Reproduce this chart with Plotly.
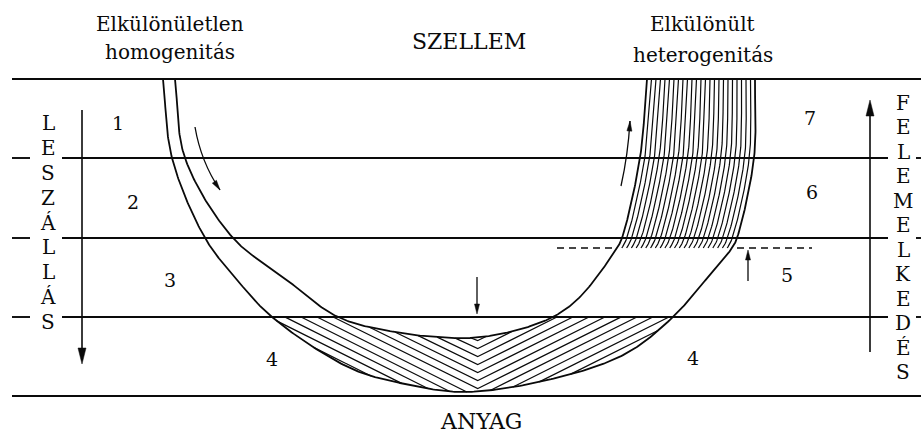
import numpy as np
import plotly.graph_objects as go

# ---------------- data (diagram geometry, in pixel units) ----------------
LEVELS_Y = [79, 158, 238, 317, 396]          # horizontal band boundaries
LEFT_WORD = "LESZÁLLÁS"
RIGHT_WORD = "FELEMELKEDÉS"
ZONE_LABELS = ["1", "2", "3", "4", "4", "5", "6", "7"]
ZONE_X = [118, 133, 170, 272, 693, 787, 812, 810]
ZONE_Y = [123, 202, 280, 359, 358, 275, 192, 118]
TOP_LABELS = ["Elkülönületlen", "homogenitás", "SZELLEM", "Elkülönült", "heterogenitás", "ANYAG"]
TOP_X = [170, 170, 469, 702, 703, 481]
TOP_Y = [24, 52, 41, 24, 55, 421]

OUTER_X = [163, 172, 205, 233, 272, 350, 400, 465, 560, 627, 673, 703, 732, 737, 754, 755]
OUTER_Y = [79, 158, 238, 275, 317, 368, 383, 392, 377, 353, 317, 283, 248, 238, 158, 79]
INNER_X = [175, 185, 233, 282, 338, 400, 437, 470, 510, 553, 580, 617, 622, 640, 647]
INNER_Y = [79, 158, 238, 276, 317, 333, 337, 338, 332, 317, 297, 248, 238, 158, 79]

DASH_Y = 248
V_CENTER = 477

W, H = 921, 434
INK = "#0a0a0a"


def catmull_rom(xs, ys, n=40):
    P = np.column_stack([xs, ys]).astype(float)
    P = np.vstack([2 * P[0] - P[1], P, 2 * P[-1] - P[-2]])
    out = []
    a = 0.5
    for i in range(1, len(P) - 2):
        p0, p1, p2, p3 = P[i - 1], P[i], P[i + 1], P[i + 2]
        t0 = 0.0
        t1 = t0 + np.linalg.norm(p1 - p0) ** a
        t2 = t1 + np.linalg.norm(p2 - p1) ** a
        t3 = t2 + np.linalg.norm(p3 - p2) ** a
        t = np.linspace(t1, t2, n, endpoint=False)[:, None]
        A1 = (t1 - t) / (t1 - t0) * p0 + (t - t0) / (t1 - t0) * p1
        A2 = (t2 - t) / (t2 - t1) * p1 + (t - t1) / (t2 - t1) * p2
        A3 = (t3 - t) / (t3 - t2) * p2 + (t - t2) / (t3 - t2) * p3
        B1 = (t2 - t) / (t2 - t0) * A1 + (t - t0) / (t2 - t0) * A2
        B2 = (t3 - t) / (t3 - t1) * A2 + (t - t1) / (t3 - t1) * A3
        C = (t2 - t) / (t2 - t1) * B1 + (t - t1) / (t2 - t1) * B2
        out.append(C)
    out.append(P[-2][None, :])
    return np.vstack(out)


outer = catmull_rom(OUTER_X, OUTER_Y)
inner = catmull_rom(INNER_X, INNER_Y)

fig = go.Figure()


def add_line(xs, ys, width=1.6, dash=None):
    fig.add_trace(go.Scatter(x=xs, y=ys, mode="lines", hoverinfo="skip",
                             line=dict(color=INK, width=width, dash=dash)))


# main arcs
add_line(outer[:, 0], outer[:, 1], 1.8)
add_line(inner[:, 0], inner[:, 1], 1.8)

# ---- right band hatching (curves between inner & outer, from top to dashed line)
def right_part(curve, xmin):
    m = (curve[:, 0] > xmin) & (curve[:, 1] <= 260)
    c = curve[m]
    o = np.argsort(c[:, 1])
    return c[o, 1], c[o, 0]

oy_r, ox_r = right_part(outer, 650)
iy_r, ix_r = right_part(inner, 590)
yy = np.linspace(LEVELS_Y[0], DASH_Y, 120)
xo = np.interp(yy, oy_r, ox_r)
xi = np.interp(yy, iy_r, ix_r)
hx, hy = [], []
N_RIGHT = 23
for t in np.linspace(0, 1, N_RIGHT + 2)[1:-1]:
    hx += list((1 - t) * xi + t * xo) + [None]
    hy += list(yy) + [None]
add_line(hx, hy, 1.2)

# ---- bottom chevron hatching
def bottom_part(curve):
    m = curve[:, 1] > 300
    c = curve[m]
    o = np.argsort(c[:, 0])
    return c[o, 0], c[o, 1]

obx, oby = bottom_part(outer)
ibx, iby = bottom_part(inner)
xs = np.sort(np.concatenate([np.linspace(obx.min(), obx.max(), 2400), [V_CENTER]]))
y_out = np.interp(xs, obx, oby)
y_in = np.where((xs >= ibx.min()) & (xs <= ibx.max()), np.interp(xs, ibx, iby), -1e9)
SLOPE = 0.5
GAP = 8.0
bx, by = [], []
v = 341.0
while v < 440:
    yl = v - SLOPE * np.abs(xs - V_CENTER)
    inside = (yl >= LEVELS_Y[3]) & (yl >= y_in) & (yl <= y_out)
    seg_x, seg_y = [], []
    for k in range(len(xs)):
        if inside[k]:
            seg_x.append(xs[k]); seg_y.append(yl[k])
        elif seg_x:
            bx += seg_x + [None]; by += seg_y + [None]
            seg_x, seg_y = [], []
    if seg_x:
        bx += seg_x + [None]; by += seg_y + [None]
    v += GAP
add_line(bx, by, 1.2)

# ---- horizontal lines
shapes = []
def hline(x0, x1, y, width=1.9, dash=None):
    shapes.append(dict(type="line", x0=x0, x1=x1, y0=y, y1=y, xref="x", yref="y",
                       line=dict(color=INK, width=width, dash=dash)))

hline(12, W, LEVELS_Y[0])
hline(12, W, LEVELS_Y[4])
for y in LEVELS_Y[1:4]:
    hline(12, 30, y)
    hline(62, 888, y)
    hline(916, W, y)

# dashed line around the hatching bottom
hline(557, 617, DASH_Y, 1.4, "7px,5px")
hline(737, 812, DASH_Y, 1.4, "7px,5px")


def arrow_head(tip, direction, length=14, width=8):
    d = np.array(direction, float)
    d /= np.linalg.norm(d)
    n = np.array([-d[1], d[0]])
    tip = np.array(tip, float)
    base = tip - d * length
    p1 = base + n * width / 2
    p2 = base - n * width / 2
    path = f"M {tip[0]},{tip[1]} L {p1[0]},{p1[1]} L {p2[0]},{p2[1]} Z"
    shapes.append(dict(type="path", path=path, xref="x", yref="y",
                       fillcolor=INK, line=dict(color=INK, width=0.5)))


def straight_arrow(x, y0, y1, length, width, lw=1.6):
    shapes.append(dict(type="line", x0=x, x1=x, y0=y0, y1=y1 - np.sign(y1 - y0) * length * 0.6,
                       xref="x", yref="y", line=dict(color=INK, width=lw)))
    arrow_head((x, y1), (0, y1 - y0), length, width)


straight_arrow(82, 110, 364, 16, 8)
straight_arrow(870, 352, 100, 16, 8)
straight_arrow(477, 277, 314, 10, 5, 1.3)
straight_arrow(748, 281, 250, 10, 5, 1.3)

# curved arrows
def curved_arrow(p0, pc, p1, length=10, width=5):
    shapes.append(dict(type="path", path=f"M {p0[0]},{p0[1]} Q {pc[0]},{pc[1]} {p1[0]},{p1[1]}",
                       xref="x", yref="y", line=dict(color=INK, width=1.3)))
    arrow_head(p1, (p1[0] - pc[0], p1[1] - pc[1]), length, width)

curved_arrow((195, 127), (201, 162), (220, 190))
curved_arrow((621, 186), (628, 155), (630, 121))

# ---- text
FONT = "DejaVu Serif"
ann = []
for t, x, y in zip(TOP_LABELS, TOP_X, TOP_Y):
    size = 22 if t.isupper() else 20
    ann.append(dict(text=t, x=x, y=y, xref="x", yref="y", showarrow=False,
                    xanchor="center", yanchor="middle",
                    font=dict(family=FONT, size=size, color=INK)))
for t, x, y in zip(ZONE_LABELS, ZONE_X, ZONE_Y):
    ann.append(dict(text=t, x=x, y=y, xref="x", yref="y", showarrow=False,
                    xanchor="center", yanchor="middle",
                    font=dict(family=FONT, size=19, color=INK)))
left_y = np.linspace(123, 322, len(LEFT_WORD))
for ch, y in zip(LEFT_WORD, left_y):
    ann.append(dict(text=ch, x=48, y=y, xref="x", yref="y", showarrow=False,
                    xanchor="center", yanchor="middle",
                    font=dict(family=FONT, size=20, color=INK)))
right_y = np.linspace(103, 372, len(RIGHT_WORD))
for ch, y in zip(RIGHT_WORD, right_y):
    ann.append(dict(text=ch, x=903, y=y, xref="x", yref="y", showarrow=False,
                    xanchor="center", yanchor="middle",
                    font=dict(family=FONT, size=20, color=INK)))

fig.update_layout(
    width=W, height=H, margin=dict(l=0, r=0, t=0, b=0),
    paper_bgcolor="white", plot_bgcolor="white", showlegend=False,
    xaxis=dict(range=[0, W], visible=False, fixedrange=True),
    yaxis=dict(range=[H, 0], visible=False, fixedrange=True),
    shapes=shapes, annotations=ann,
)
fig.write_html("out.html", config={"staticPlot": True},
               post_script="document.body.style.margin='0px';document.body.style.overflow='hidden';")
